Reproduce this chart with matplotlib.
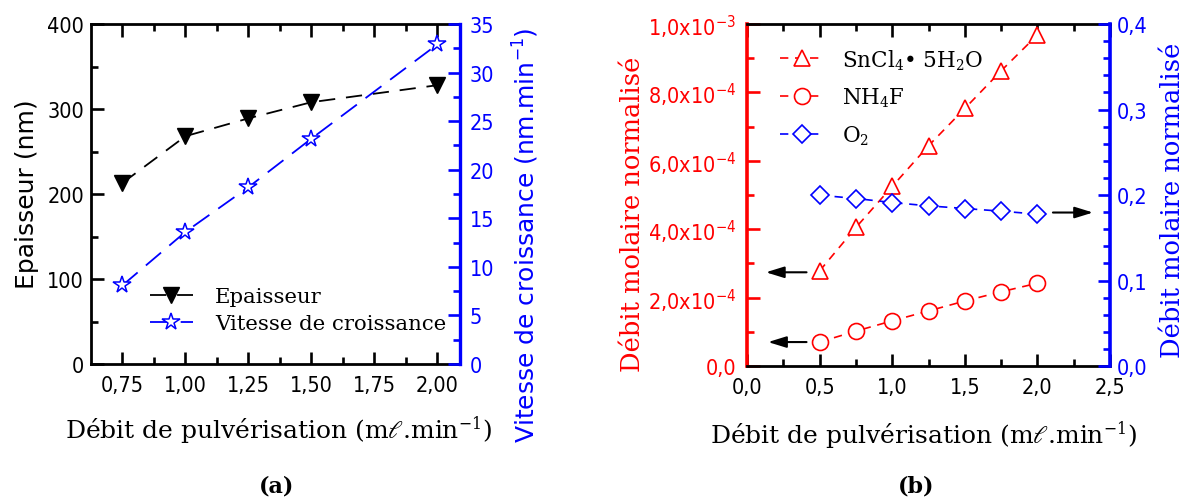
import matplotlib
matplotlib.use('Agg')
import matplotlib.pyplot as plt
from matplotlib import font_manager as fm
from matplotlib.ticker import FixedLocator, MultipleLocator, FuncFormatter
from matplotlib.font_manager import FontProperties
import math

# ---------------- data (a) ----------------
flow_a = [0.75, 1.00, 1.25, 1.50, 2.00]
epaisseur = [213, 268, 289, 308, 328]
vitesse = [8.1, 13.6, 18.2, 23.2, 32.9]
xticks_a = [0.75, 1.00, 1.25, 1.50, 1.75, 2.00]

# ---------------- data (b) ----------------
flow_b = [0.5, 0.75, 1.0, 1.25, 1.5, 1.75, 2.0]
sncl4 = [2.78e-4, 4.05e-4, 5.25e-4, 6.44e-4, 7.53e-4, 8.63e-4, 9.68e-4]
nh4f = [0.70e-4, 1.02e-4, 1.32e-4, 1.61e-4, 1.90e-4, 2.17e-4, 2.42e-4]
o2 = [0.1998, 0.1959, 0.1912, 0.1873, 0.1842, 0.1811, 0.1776]

# tick labels: condensed sans if available
has_cond = any(f.name == 'DejaVu Sans' and f.stretch in ('condensed', 'semi-condensed')
               for f in fm.fontManager.ttflist)
plt.rcParams['font.family'] = ['DejaVu Sans']
if has_cond:
    plt.rcParams['font.stretch'] = 'condensed'
    TICK = 15.5
else:
    TICK = 14.5

W, H = 1185, 502
fig = plt.figure(figsize=(W / 100, H / 100), dpi=100)


def px_axes(l, t, r, b):
    return fig.add_axes([l / W, 1 - b / H, (r - l) / W, (b - t) / H])


MAJ, MIN, TW = 9, 5, 1.9
serif = 'DejaVu Serif'
sans = 'DejaVu Sans'

# ======================= panel (a) =======================
axA = px_axes(91, 25, 460, 365)
axA2 = axA.twinx()

l1, = axA.plot(flow_a, epaisseur, color='black', ls=(0, (9, 6)), lw=1.3,
               marker='v', ms=12, mfc='black', mec='black', label='Epaisseur')
l2, = axA2.plot(flow_a, vitesse, color='blue', ls=(0, (11, 6)), lw=1.3,
                marker='*', ms=13, mfc='white', mec='blue', mew=1.1,
                label='Vitesse de croissance')

axA.set_xlim(0.625, 2.09)
axA.set_ylim(0, 400)
axA2.set_ylim(0, 35)

axA.xaxis.set_major_locator(FixedLocator(xticks_a))
axA.xaxis.set_minor_locator(FixedLocator([v + 0.125 for v in xticks_a[:-1]]))
axA.xaxis.set_major_formatter(FuncFormatter(lambda v, p: f"{v:.2f}".replace('.', ',')))
axA.yaxis.set_major_locator(MultipleLocator(100))
axA.yaxis.set_minor_locator(MultipleLocator(50))
axA2.yaxis.set_major_locator(MultipleLocator(5))
axA2.yaxis.set_minor_locator(MultipleLocator(2.5))

axA.tick_params(axis='both', which='both', direction='in', width=TW, top=True,
                right=False, labelsize=TICK)
axA.tick_params(which='major', length=MAJ)
axA.tick_params(which='minor', length=MIN)
axA.tick_params(axis='x', pad=8)
axA.tick_params(axis='y', pad=5)
axA2.tick_params(axis='y', which='both', direction='in', width=TW, colors='blue',
                 labelsize=TICK, pad=7)
axA2.tick_params(axis='y', which='major', length=MAJ)
axA2.tick_params(axis='y', which='minor', length=MIN)

for s in ['left', 'top', 'bottom']:
    axA.spines[s].set_linewidth(2)
axA.spines['right'].set_visible(False)
for s in ['left', 'top', 'bottom']:
    axA2.spines[s].set_visible(False)
axA2.spines['right'].set_color('blue')
axA2.spines['right'].set_linewidth(2.4)

legA_prop = FontProperties(family=serif, size=15.3, stretch='normal')
axA2.legend(handles=[l1, l2], loc='upper left', bbox_to_anchor=(150 / W, 1 - 288 / H),
            bbox_transform=fig.transFigure, frameon=False, prop=legA_prop,
            borderpad=0, borderaxespad=0, handlelength=2.0, handletextpad=1.05,
            labelspacing=0.4, numpoints=1)

fig.text(27 / W, 1 - 194 / H, 'Epaisseur (nm)', rotation=90, ha='center', va='center',
         fontsize=18, family=sans, stretch='normal')
fig.text(526 / W, 1 - 235 / H, 'Vitesse de croissance (nm.min$^{-1}$)', rotation=90,
         ha='center', va='center', fontsize=18, family=sans, color='blue',
         stretch='normal')
fig.text(278 / W, 1 - 430 / H, 'Débit de pulvérisation (m$\\ell$.min$^{-1}$)',
         ha='center', va='center', fontsize=18, family=serif,
         math_fontfamily='dejavuserif', stretch='normal')
fig.text(277 / W, 1 - 487 / H, '(a)', ha='center', va='center', fontsize=16,
         family=serif, fontweight='bold', stretch='normal')

# ======================= panel (b) =======================
axB = px_axes(747, 25, 1110, 367)
axB2 = axB.twinx()

m1, = axB.plot(flow_b, sncl4, color='red', ls=(0, (5, 4)), lw=1.2, marker='^', ms=12,
               mfc='white', mec='red', mew=1.2, label='SnCl$_4$• 5H$_2$O')
m2, = axB.plot(flow_b, nh4f, color='red', ls=(0, (5, 4)), lw=1.2, marker='o', ms=11.5,
               mfc='white', mec='red', mew=1.2, label='NH$_4$F')
m3, = axB2.plot(flow_b, o2, color='blue', ls=(0, (5, 4)), lw=1.2, marker='D', ms=9.5,
                mfc='white', mec='blue', mew=1.2, label='O$_2$')

axB.set_xlim(0, 2.5)
axB.set_ylim(0, 1.0e-3)
axB2.set_ylim(0, 0.4)

axB.xaxis.set_major_locator(MultipleLocator(0.5))
axB.xaxis.set_minor_locator(MultipleLocator(0.25))
axB.xaxis.set_major_formatter(FuncFormatter(lambda v, p: f"{v:.1f}".replace('.', ',')))
axB.yaxis.set_major_locator(MultipleLocator(2e-4))
axB.yaxis.set_minor_locator(MultipleLocator(1e-4))


def sci_fmt(v, p):
    if abs(v) < 1e-12:
        return '0,0'
    e = int(math.floor(math.log10(abs(v)) + 1e-9))
    m = v / 10 ** e
    return f"{m:.1f}".replace('.', ',') + 'x10$^{' + str(e) + '}$'


axB.yaxis.set_major_formatter(FuncFormatter(sci_fmt))
axB2.yaxis.set_major_locator(MultipleLocator(0.1))
axB2.yaxis.set_minor_locator(MultipleLocator(0.02))
axB2.yaxis.set_major_formatter(FuncFormatter(lambda v, p: f"{v:.1f}".replace('.', ',')))

axB.tick_params(axis='both', which='both', direction='in', width=TW, top=True,
                right=False, labelsize=TICK)
axB.tick_params(which='major', length=MAJ)
axB.tick_params(which='minor', length=MIN)
axB.tick_params(axis='x', pad=8)
axB.tick_params(axis='y', which='both', colors='red', pad=8)
axB.tick_params(axis='x', which='both', colors='black')
axB2.tick_params(axis='y', which='both', direction='in', width=TW, colors='blue',
                 labelsize=TICK, pad=5)
axB2.tick_params(axis='y', which='major', length=MAJ)
axB2.tick_params(axis='y', which='minor', length=MIN)

for s in ['top', 'bottom']:
    axB.spines[s].set_linewidth(2)
axB.spines['left'].set_color('red')
axB.spines['left'].set_linewidth(2.6)
axB.spines['right'].set_visible(False)
for s in ['left', 'top', 'bottom']:
    axB2.spines[s].set_visible(False)
axB2.spines['right'].set_color('blue')
axB2.spines['right'].set_linewidth(2.6)

# arrows pointing to the relevant axis
arrow_style = dict(arrowstyle='-|>,head_length=0.55,head_width=0.17', color='black',
                   lw=1.5, shrinkA=0, shrinkB=0, mutation_scale=20)
axB.annotate('', xy=(0.13, 2.74e-4), xytext=(0.41, 2.74e-4), arrowprops=arrow_style)
axB.annotate('', xy=(0.145, 0.70e-4), xytext=(0.41, 0.70e-4), arrowprops=arrow_style)
axB2.annotate('', xy=(2.383, 0.1795), xytext=(2.107, 0.1795), arrowprops=arrow_style)

legB_prop = FontProperties(family=serif, size=15.5, math_fontfamily='dejavuserif',
                           stretch='normal')
axB2.legend(handles=[m1, m2, m3], loc='upper left', bbox_to_anchor=(780 / W, 1 - 48 / H),
            bbox_transform=fig.transFigure, frameon=False, prop=legB_prop,
            borderpad=0, borderaxespad=0, handlelength=2.05, handletextpad=0.85,
            labelspacing=0.66, numpoints=1)

fig.text(633 / W, 1 - 214 / H, 'Débit molaire normalisé', rotation=90, ha='center',
         va='center', fontsize=18.5, family=serif, color='red', stretch='normal')
fig.text(1173 / W, 1 - 200 / H, 'Débit molaire normalisé', rotation=90, ha='center',
         va='center', fontsize=18.5, family=serif, color='blue', stretch='normal')
fig.text(923 / W, 1 - 435 / H, 'Débit de pulvérisation (m$\\ell$.min$^{-1}$)',
         ha='center', va='center', fontsize=18, family=serif,
         math_fontfamily='dejavuserif', stretch='normal')
fig.text(916 / W, 1 - 487 / H, '(b)', ha='center', va='center', fontsize=16,
         family=serif, fontweight='bold', stretch='normal')

fig.savefig('out.png', dpi=100)
